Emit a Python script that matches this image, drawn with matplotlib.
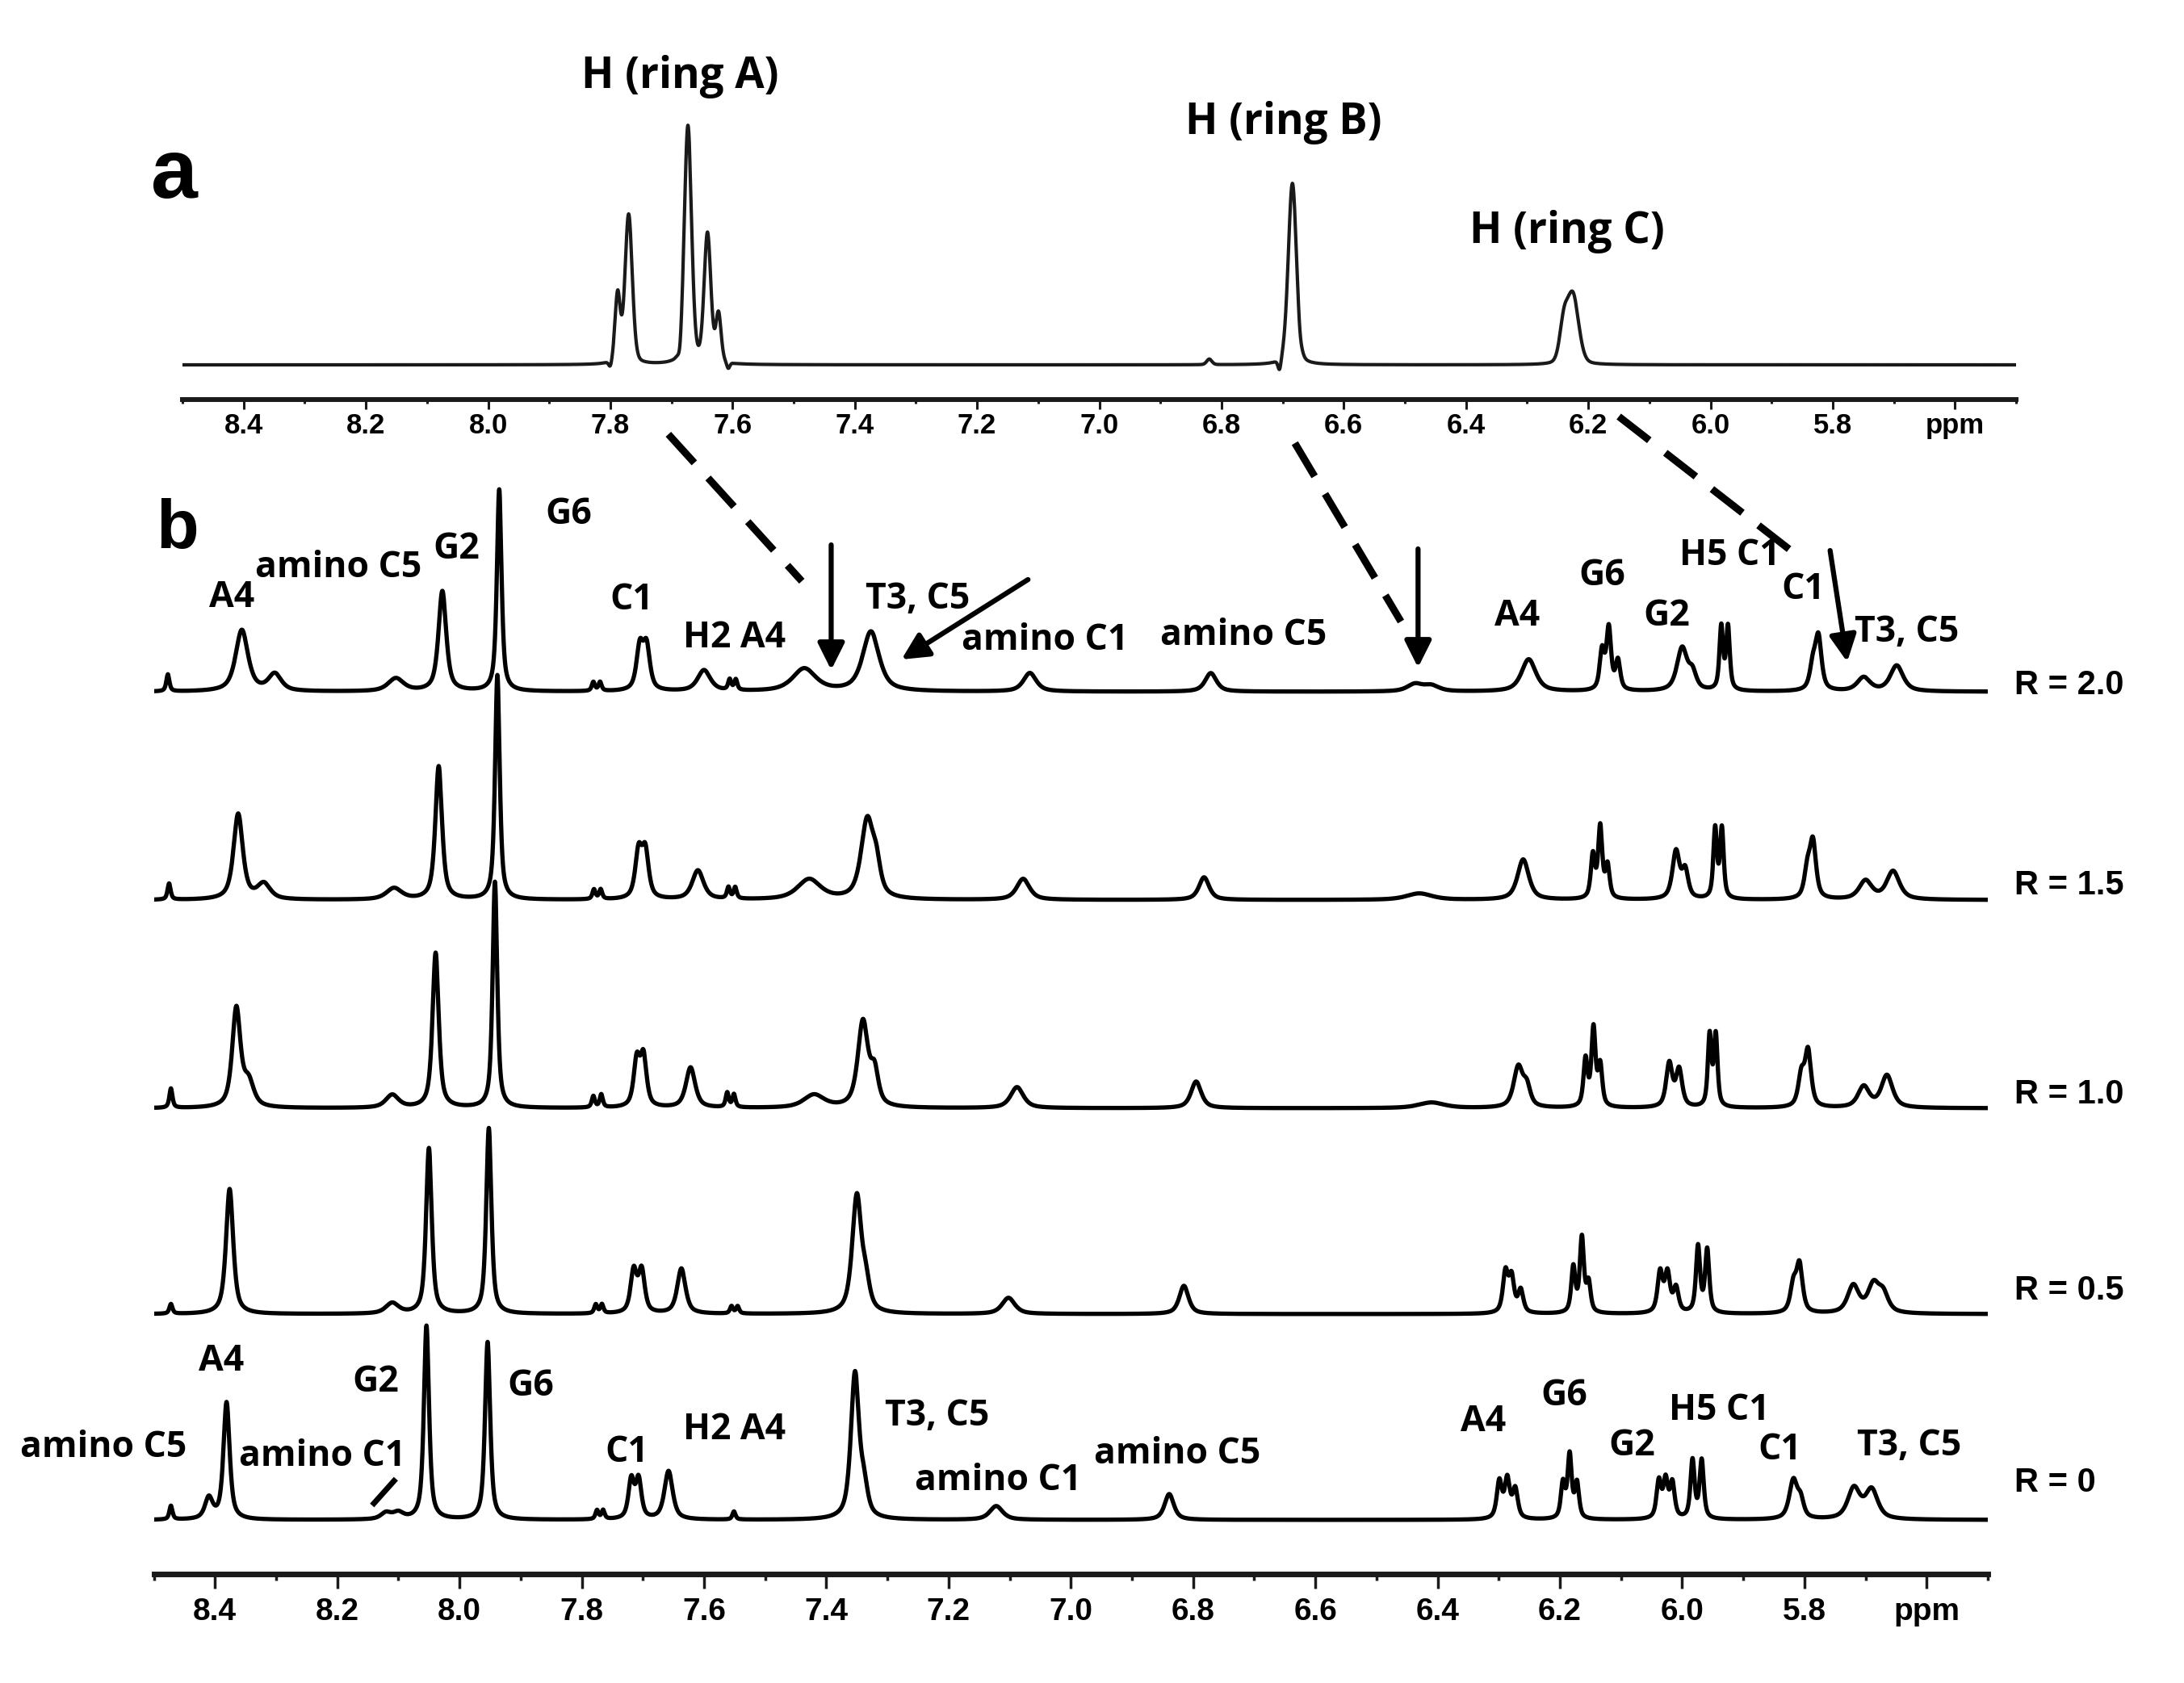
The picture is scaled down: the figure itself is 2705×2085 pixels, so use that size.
import numpy as np
import matplotlib
matplotlib.use("Agg")
import matplotlib.pyplot as plt
from matplotlib.patches import ConnectionPatch
from matplotlib.ticker import FixedLocator, FixedFormatter, MultipleLocator

PPM_LEFT, PPM_RIGHT = 8.5, 5.5

# ---- panel a : free ligand, peaks as (ppm, height, fwhm) ----
top_peaks = [
    (7.800, -8, 0.006), (7.788, 85, 0.010), (7.770, 185, 0.014),
    (7.686, -12, 0.006), (7.673, 295, 0.014), (7.641, 160, 0.013),
    (7.623, 60, 0.010), (7.607, -8, 0.006),
    (6.820, 7, 0.010),
    (6.705, -14, 0.006), (6.684, 225, 0.016), (6.672, -7, 0.006),
    (6.240, 45, 0.016), (6.225, 85, 0.022),
]

# ---- panel b : titration series, peaks as (ppm, height, fwhm) ----
r00_peaks = [
    (8.472, 17, 0.006), (8.410, 26, 0.015), (8.381, 145, 0.012),
    (8.120, 8, 0.02), (8.100, 8, 0.02), (8.054, 240, 0.010), (7.954, 220, 0.010),
    (7.775, 11, 0.006), (7.765, 11, 0.006), (7.719, 48, 0.011), (7.707, 48, 0.011),
    (7.658, 60, 0.016), (7.551, 10, 0.006), (7.353, 180, 0.016), (7.338, 32, 0.014),
    (7.122, 17, 0.025), (6.839, 32, 0.018),
    (6.299, 46, 0.010), (6.286, 48, 0.010), (6.273, 36, 0.010),
    (6.195, 43, 0.008), (6.184, 78, 0.008), (6.172, 43, 0.008),
    (6.038, 46, 0.009), (6.027, 46, 0.009), (6.016, 43, 0.009),
    (5.983, 72, 0.008), (5.968, 72, 0.008),
    (5.818, 48, 0.016), (5.806, 20, 0.012),
    (5.719, 38, 0.024), (5.690, 36, 0.024),
]
r05_peaks = [
    (8.472, 12, 0.006), (8.376, 155, 0.014), (8.110, 13, 0.025),
    (8.050, 205, 0.011), (7.952, 230, 0.010),
    (7.777, 11, 0.006), (7.767, 11, 0.006), (7.715, 52, 0.012), (7.702, 52, 0.012),
    (7.637, 56, 0.016), (7.555, 9, 0.006), (7.545, 9, 0.006),
    (7.350, 145, 0.018), (7.335, 30, 0.015), (7.102, 20, 0.025), (6.815, 35, 0.018),
    (6.289, 50, 0.010), (6.279, 43, 0.010), (6.264, 28, 0.010),
    (6.178, 56, 0.008), (6.164, 92, 0.008), (6.153, 36, 0.008),
    (6.036, 50, 0.010), (6.024, 48, 0.010), (6.010, 30, 0.010),
    (5.974, 82, 0.008), (5.959, 78, 0.008),
    (5.818, 33, 0.012), (5.808, 58, 0.012),
    (5.720, 34, 0.022), (5.687, 34, 0.022), (5.671, 22, 0.020),
]
r10_peaks = [
    (8.472, 24, 0.006), (8.365, 122, 0.016), (8.345, 30, 0.020), (8.110, 16, 0.025),
    (8.039, 192, 0.012), (7.942, 280, 0.009),
    (7.781, 14, 0.006), (7.768, 16, 0.006), (7.710, 57, 0.012), (7.699, 61, 0.012),
    (7.622, 50, 0.018), (7.562, 18, 0.006), (7.551, 16, 0.006), (7.420, 16, 0.040),
    (7.340, 106, 0.020), (7.321, 40, 0.015), (7.088, 26, 0.025), (6.795, 33, 0.020),
    (6.410, 7, 0.050),
    (6.268, 50, 0.018), (6.254, 23, 0.014),
    (6.158, 58, 0.008), (6.145, 96, 0.008), (6.134, 50, 0.008),
    (6.021, 54, 0.012), (6.005, 46, 0.012),
    (5.955, 88, 0.007), (5.945, 88, 0.007),
    (5.805, 38, 0.012), (5.794, 68, 0.012),
    (5.703, 26, 0.022), (5.665, 40, 0.022),
]
r15_peaks = [
    (8.475, 20, 0.006), (8.362, 106, 0.018), (8.320, 19, 0.025), (8.107, 14, 0.030),
    (8.034, 165, 0.013), (7.938, 278, 0.009),
    (7.780, 12, 0.006), (7.769, 12, 0.006), (7.707, 57, 0.013), (7.696, 57, 0.013),
    (7.610, 36, 0.022), (7.560, 14, 0.006), (7.549, 14, 0.006), (7.428, 25, 0.045),
    (7.333, 97, 0.024), (7.318, 32, 0.016), (7.078, 26, 0.025), (6.782, 28, 0.020),
    (6.430, 8, 0.050),
    (6.260, 50, 0.022),
    (6.146, 53, 0.008), (6.134, 88, 0.008), (6.122, 40, 0.008),
    (6.010, 59, 0.014), (5.995, 34, 0.012),
    (5.946, 86, 0.007), (5.935, 86, 0.007),
    (5.795, 34, 0.012), (5.786, 68, 0.012),
    (5.700, 23, 0.025), (5.655, 35, 0.025),
]
r20_peaks = [
    (8.477, 21, 0.006), (8.356, 76, 0.024), (8.302, 21, 0.025), (8.104, 16, 0.030),
    (8.028, 124, 0.015), (7.935, 250, 0.009),
    (7.781, 11, 0.006), (7.770, 11, 0.006), (7.705, 53, 0.013), (7.694, 53, 0.013),
    (7.600, 26, 0.025), (7.558, 13, 0.006), (7.548, 13, 0.006), (7.436, 28, 0.045),
    (7.327, 74, 0.032), (7.067, 23, 0.025), (6.771, 23, 0.022),
    (6.437, 9, 0.030), (6.410, 7, 0.030),
    (6.251, 40, 0.028),
    (6.131, 48, 0.009), (6.120, 76, 0.009), (6.105, 36, 0.009),
    (6.000, 53, 0.020), (5.983, 20, 0.015),
    (5.936, 78, 0.007), (5.925, 78, 0.007),
    (5.786, 30, 0.012), (5.777, 64, 0.012),
    (5.703, 17, 0.025), (5.649, 32, 0.025),
]

ratios = ["R = 0", "R = 0.5", "R = 1.0", "R = 1.5", "R = 2.0"]
spectra = [r00_peaks, r05_peaks, r10_peaks, r15_peaks, r20_peaks]
offsets = [67, 322, 577, 835, 1093]          # stacking offsets (panel b units)
ratio_label_y = [113, 351, 594, 853, 1101]

# peak assignments: (text, ppm, height in panel units)
labels_r20 = [
    ("A4", 8.373, 1210), ("amino C5", 8.198, 1247), ("G2", 8.005, 1270),
    ("G6", 7.822, 1313), ("C1", 7.719, 1207), ("H2 A4", 7.551, 1160),
    ("T3, C5", 7.250, 1208), ("amino C1", 7.042, 1157), ("amino C5", 6.718, 1163),
    ("A4", 6.270, 1187), ("G6", 6.131, 1237), ("G2", 6.025, 1187),
    ("H5 C1", 5.922, 1262), ("C1", 5.802, 1220), ("T3, C5", 5.633, 1167),
]
labels_r00 = [
    ("amino C5", 8.583, 156), ("A4", 8.390, 263), ("amino C1", 8.225, 145),
    ("G2", 8.137, 237), ("G6", 7.884, 232), ("C1", 7.727, 150),
    ("H2 A4", 7.551, 178), ("T3, C5", 7.219, 195), ("amino C1", 7.119, 115),
    ("amino C5", 6.826, 148), ("A4", 6.325, 188), ("G6", 6.193, 220),
    ("G2", 6.082, 158), ("H5 C1", 5.939, 202), ("C1", 5.840, 153),
    ("T3, C5", 5.629, 158),
]
labels_top = [("H (ring A)", 7.686, 357), ("H (ring B)", 6.699, 300), ("H (ring C)", 6.234, 165)]

tick_vals = [8.4, 8.2, 8.0, 7.8, 7.6, 7.4, 7.2, 7.0, 6.8, 6.6, 6.4, 6.2, 6.0, 5.8, 5.6]
tick_text = ["8.4", "8.2", "8.0", "7.8", "7.6", "7.4", "7.2", "7.0", "6.8", "6.6",
             "6.4", "6.2", "6.0", "5.8", "ppm"]


def line_shape(x, peaks, eta):
    y = np.zeros_like(x)
    for c, h, w in peaks:
        u = (x - c) / (w / 2.0)
        y += h * (eta * 1.0 / (1.0 + u ** 2) + (1 - eta) * np.exp(-np.log(2) * u ** 2))
    return y


def style_axis(ax, major_len, minor_len, width, spine_lw, font, size, pad):
    for s in ("top", "left", "right"):
        ax.spines[s].set_visible(False)
    ax.spines["bottom"].set_linewidth(spine_lw)
    ax.spines["bottom"].set_color("#1a1a1a")
    ax.set_yticks([])
    ax.set_xlim(PPM_LEFT, PPM_RIGHT)
    ax.xaxis.set_major_locator(FixedLocator(tick_vals))
    ax.xaxis.set_major_formatter(FixedFormatter(tick_text))
    ax.xaxis.set_minor_locator(MultipleLocator(0.1))
    ax.tick_params(axis="x", which="major", direction="out", length=major_len,
                   width=width, pad=pad, color="#1a1a1a")
    ax.tick_params(axis="x", which="minor", direction="out", length=minor_len,
                   width=width, color="#1a1a1a")
    for lab in ax.get_xticklabels():
        lab.set_fontfamily(font)
        lab.set_fontweight("bold")
        lab.set_fontsize(size)
    ax.patch.set_alpha(0)


LABEL_FONT = ["Open Sans", "DejaVu Sans"]
ARIAL = ["Liberation Sans", "DejaVu Sans"]
NARROW = ["Liberation Sans Narrow", "Liberation Sans", "DejaVu Sans"]

fig = plt.figure(figsize=(27.05, 20.85), dpi=100)
ax_top = fig.add_axes([0.08355, 0.76259, 0.83956, 0.23741])
ax_bot = fig.add_axes([0.07043, 0.06475, 0.83974, 0.69544])

x = np.linspace(PPM_RIGHT, PPM_LEFT, 12001)

# panel a
ax_top.plot(x, line_shape(x, top_peaks, 0.25), color="#1a1a1a", lw=3.0)
ax_top.set_ylim(-43, 452)
style_axis(ax_top, 8.6, 3.6, 2.2, 4.3, ARIAL, 25, 3)
for txt, px, py in labels_top:
    ax_top.text(px, py, txt, ha="center", va="center", fontsize=38,
                fontweight="bold", family=LABEL_FONT)
ax_top.text(8.513, 233, "a", ha="center", va="center", fontsize=75,
            fontweight="bold", family=ARIAL)

# panel b
for peaks, off in zip(spectra, offsets):
    ax_bot.plot(x, off + line_shape(x, peaks, 0.7), color="black", lw=3.8)
ax_bot.set_ylim(0, 1450)
style_axis(ax_bot, 13, 5.8, 2.5, 5.0, ARIAL, 28, 8)

for txt, px, py in labels_r20 + labels_r00:
    ax_bot.text(px, py, txt, ha="center", va="center", fontsize=32,
                fontweight="bold", family=LABEL_FONT)
for txt, py in zip(ratios, ratio_label_y):
    ax_bot.text(5.457, py, txt, ha="left", va="center", fontsize=30,
                fontweight="bold", family=NARROW)
ax_bot.text(8.461, 1293, "b", ha="center", va="center", fontsize=62,
            fontweight="bold", family=ARIAL)

# bound-state arrows on the R = 2.0 trace
arrows = [((7.392, 1275), (7.392, 1120)), ((7.070, 1232), (7.277, 1133)),
          ((6.432, 1270), (6.432, 1123)), ((5.758, 1268), (5.730, 1130))]
for (x0, y0), (x1, y1) in arrows:
    ax_bot.annotate("", xy=(x1, y1), xytext=(x0, y0),
                    arrowprops=dict(arrowstyle="-|>", lw=4.5, color="black",
                                    mutation_scale=50, shrinkA=0, shrinkB=0))
# tick pointing at the weak amino C1 signal (R = 0)
ax_bot.plot([8.143, 8.104], [85, 118], color="black", lw=5, solid_capstyle="butt")

# dashed guides from free-ligand peaks to bound signals
guides = [((7.705, -86), (7.440, 1230)), ((6.680, -97), (6.460, 1180)),
          ((6.150, -64), (5.812, 1262))]
for a, b in guides:
    con = ConnectionPatch(xyA=a, coordsA=ax_top.transData, xyB=b, coordsB=ax_bot.transData,
                          color="black", lw=6.5, linestyle=(0, (5.3, 2.8)), capstyle="butt")
    fig.add_artist(con)

fig.savefig("out.png", dpi=100)
